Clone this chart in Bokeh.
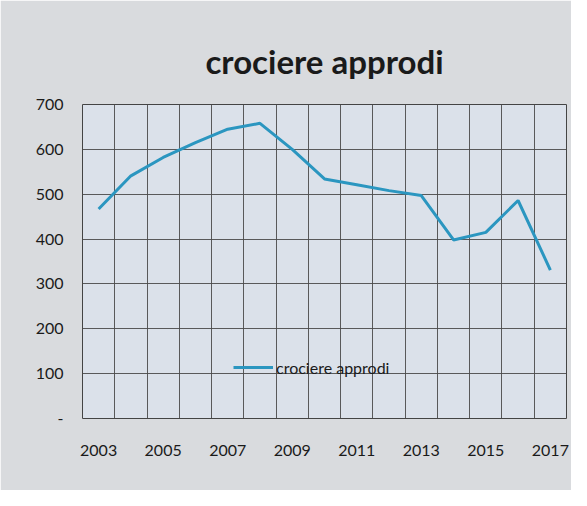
from bokeh.plotting import figure
from bokeh.models import FixedTicker, Legend, LegendItem
from bokeh.embed import file_html
from bokeh.resources import INLINE

years = list(range(2003, 2018))
approdi = [467, 541, 582, 615, 645, 658, 600, 534, 521, 508, 497, 398, 415, 486, 331]
y_ticks = [0, 100, 200, 300, 400, 500, 600, 700]
x_label_years = [2003, 2005, 2007, 2009, 2011, 2013, 2015, 2017]
series_name = "crociere approdi"
title_text = "crociere approdi"

FONT = "Lato"

p = figure(
    width=571, height=490,
    frame_width=484, frame_height=314,
    x_range=(years[0] - 0.5, years[-1] + 0.5),
    y_range=(0, 700),
    output_backend="svg", toolbar_location=None,
    min_border_left=82, min_border_right=5, min_border_top=104, min_border_bottom=72,
)
p.background_fill_color = "#dbe1ea"
p.border_fill_color = "#d9dbde"
p.outline_line_color = "#444444"
p.outline_line_width = 1

p.title.text = title_text
p.title.align = "center"
p.title.text_font = FONT
p.title.text_font_style = "bold"
p.title.text_font_size = "33px"
p.title.text_color = "#1a1a1a"
p.title.standoff = 48

# axes
p.yaxis.ticker = FixedTicker(ticks=y_ticks)
p.yaxis.major_label_overrides = {0: "-"}
p.xaxis.ticker = FixedTicker(ticks=x_label_years)
for ax in (p.xaxis, p.yaxis):
    ax.axis_line_color = None
    ax.major_tick_line_color = None
    ax.minor_tick_line_color = None
    ax.major_label_text_font = FONT
    ax.major_label_text_color = "#1a1a1a"
p.yaxis.major_label_text_font_size = "16px"
p.yaxis.major_label_standoff = 13
p.xaxis.major_label_text_font_size = "16px"
p.xaxis.major_label_standoff = 20

# grid: horizontal at every 100, vertical at category boundaries
p.ygrid.ticker = FixedTicker(ticks=y_ticks)
p.xgrid.ticker = FixedTicker(ticks=[y - 0.5 for y in years] + [years[-1] + 0.5])
for g in (p.xgrid, p.ygrid):
    g.grid_line_color = "#4a4a4a"
    g.grid_line_width = 1
    g.grid_line_alpha = 0.9

r = p.line(years, approdi, line_color="#2b96c0", line_width=3)

legend = Legend(
    items=[LegendItem(label=series_name, renderers=[r])],
    location=(151, 41),
    background_fill_alpha=0, border_line_alpha=0,
    padding=0, margin=0, glyph_width=40, label_standoff=3,
    label_text_font=FONT, label_text_font_size="16px", label_text_color="#1a1a1a",
)
p.add_layout(legend)

open("out.html", "w").write(file_html(p, INLINE))
